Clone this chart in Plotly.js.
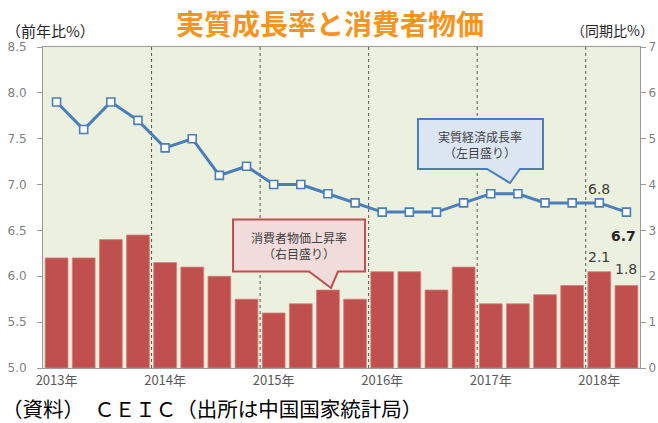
<!DOCTYPE html>
<html>
<head>
<meta charset="utf-8">
<script src="https://cdn.plot.ly/plotly-3.0.1.min.js"></script>
<style>html,body{margin:0;padding:0;background:#fff;}#chart{width:658px;height:423px;}</style>
</head>
<body>
<div id="chart"></div>
<script>
// Quarters 2013Q1 .. 2018Q2
const quarterIndex = [0,1,2,3,4,5,6,7,8,9,10,11,12,13,14,15,16,17,18,19,20,21];
const gdpGrowth = [7.9,7.6,7.9,7.7, 7.4,7.5,7.1,7.2, 7.0,7.0,6.9,6.8, 6.7,6.7,6.7,6.8, 6.9,6.9,6.8,6.8, 6.8,6.7];
const cpiRate   = [2.4,2.4,2.8,2.9, 2.3,2.2,2.0,1.5, 1.2,1.4,1.7,1.5, 2.1,2.1,1.7,2.2, 1.4,1.4,1.6,1.8, 2.1,1.8];
const yearTickPos = [0,4,8,12,16,20];
const yearLabels = ['2013年','2014年','2015年','2016年','2017年','2018年'];
const yearBounds = [3.5,7.5,11.5,15.5,19.5];
const leftTicks = [5.0,5.5,6.0,6.5,7.0,7.5,8.0,8.5];
const rightTicks = [0,1,2,3,4,5,6,7];

const FONT = '"Noto Sans CJK JP", "Noto Sans", sans-serif';
const BLUE = '#4a7ebb';
const RED = '#c0504d';

const traces = [
  {
    type:'bar', x:quarterIndex, y:cpiRate, yaxis:'y',
    marker:{color:RED, line:{color:'#d4817f', width:0.8}},
    hoverinfo:'skip'
  },
  {
    type:'scatter', mode:'lines+markers', x:quarterIndex, y:gdpGrowth, yaxis:'y2',
    line:{color:BLUE, width:3},
    marker:{symbol:'square', size:8, color:'#ffffff', line:{color:BLUE, width:1.6}},
    hoverinfo:'skip'
  }
];

const n = quarterIndex.length;
const last = n-1;

// callout boxes in paper coordinates
function P(px,py){ return ((px-43)/597).toFixed(4)+','+((368-py)/321).toFixed(4); }
const redPath = 'M'+P(233,219.5)+' L'+P(365,219.5)+' L'+P(365,271.5)+' L'+P(338,271.5)+' L'+P(331,288)+' L'+P(309,271.5)+' L'+P(233,271.5)+' Z';
const bluePath = 'M'+P(418,119)+' L'+P(543,119)+' L'+P(543,169)+' L'+P(520,169)+' L'+P(510,183)+' L'+P(487,169)+' L'+P(418,169)+' Z';

const shapes = yearBounds.map(b => ({
  type:'line', xref:'x', yref:'paper', x0:b, x1:b, y0:0, y1:1,
  line:{color:'#555555', width:1, dash:'dot'}, layer:'below'
}));
shapes.push({type:'path', xref:'paper', yref:'paper', path:redPath, fillcolor:'#f2dcdb', line:{color:RED, width:2}});
shapes.push({type:'path', xref:'paper', yref:'paper', path:bluePath, fillcolor:'#dce6f2', line:{color:BLUE, width:2}});

const annotations = [
  {xref:'paper', yref:'paper', x:(299-43)/597, y:(368-245)/321, text:'消費者物価上昇率<br>（右目盛り）', showarrow:false,
   font:{family:FONT, size:12, color:'#404040'}, align:'center', xanchor:'center', yanchor:'middle'},
  {xref:'paper', yref:'paper', x:(480-43)/597, y:(368-144)/321, text:'実質経済成長率<br>（左目盛り）', showarrow:false,
   font:{family:FONT, size:12, color:'#404040'}, align:'center', xanchor:'center', yanchor:'middle'},
  {xref:'x', yref:'y2', x:quarterIndex[last-1], y:gdpGrowth[last-1], text:gdpGrowth[last-1].toFixed(1), showarrow:false,
   yshift:14, font:{family:'"DejaVu Sans", sans-serif', size:14, color:'#404040'}},
  {xref:'x', yref:'y2', x:quarterIndex[last], y:gdpGrowth[last], text:'<b>'+gdpGrowth[last].toFixed(1)+'</b>', showarrow:false,
   xshift:-3, yshift:-24, font:{family:'"DejaVu Sans", sans-serif', size:14, color:'#262626'}},
  {xref:'x', yref:'y', x:quarterIndex[last-1], y:cpiRate[last-1], text:cpiRate[last-1].toFixed(1), showarrow:false,
   yshift:15, font:{family:'"DejaVu Sans", sans-serif', size:14, color:'#404040'}},
  {xref:'x', yref:'y', x:quarterIndex[last], y:cpiRate[last], text:cpiRate[last].toFixed(1), showarrow:false,
   xshift:0, yshift:16, font:{family:'"DejaVu Sans", sans-serif', size:14, color:'#404040'}},
  // title
  {xref:'paper', yref:'paper', x:(330-43)/597, y:(368-23)/321, text:'<b>実質成長率と消費者物価</b>', showarrow:false,
   xanchor:'center', yanchor:'middle', font:{family:FONT, size:28, color:'#f7941d'}},
  // axis unit labels
  {xref:'paper', yref:'paper', x:-0.065, y:(368-30)/321, text:'（前年比%）', showarrow:false, xanchor:'left', yanchor:'middle',
   font:{family:FONT, size:15, color:'#262626'}},
  {xref:'paper', yref:'paper', x:(656-43)/597, y:(368-30)/321, text:'（同期比%）', showarrow:false, xanchor:'right', yanchor:'middle',
   font:{family:FONT, size:14, color:'#262626'}},
  // source
  {xref:'paper', yref:'paper', x:-0.072, y:(368-408)/321, text:'（資料）　ＣＥＩＣ（出所は中国国家統計局）', showarrow:false, xanchor:'left', yanchor:'middle',
   font:{family:FONT, size:20.5, color:'#000000'}}
];

const layout = {
  width:658, height:423,
  margin:{l:43, r:18, t:47, b:55},
  paper_bgcolor:'#ffffff', plot_bgcolor:'#ebf1de',
  showlegend:false,
  bargap:0.16,
  xaxis:{range:[-0.5, n-0.5], tickvals:yearTickPos, ticktext:yearLabels, ticks:'', showgrid:false, zeroline:false,
         showline:true, linecolor:'#9a9a9a', linewidth:1, mirror:true,
         tickfont:{family:FONT, size:13, color:'#595959'}},
  yaxis:{side:'right', range:[0,7], tickvals:rightTicks, showgrid:false, zeroline:false,
         ticks:'outside', ticklen:5, tickcolor:'#9a9a9a', showline:true, linecolor:'#9a9a9a',
         tickfont:{family:'"DejaVu Sans", sans-serif', size:12, color:'#7f7f7f'}},
  yaxis2:{side:'left', overlaying:'y', range:[5,8.5], tickvals:leftTicks, tickformat:'.1f', showgrid:false, zeroline:false,
          ticks:'outside', ticklen:5, tickcolor:'#9a9a9a', showline:true, linecolor:'#9a9a9a', ticklabelstandoff:8,
          tickfont:{family:'"DejaVu Sans", sans-serif', size:12, color:'#7f7f7f'}},
  shapes:shapes,
  annotations:annotations
};

Plotly.newPlot('chart', traces, layout, {staticPlot:true, displayModeBar:false});
</script>
</body>
</html>
